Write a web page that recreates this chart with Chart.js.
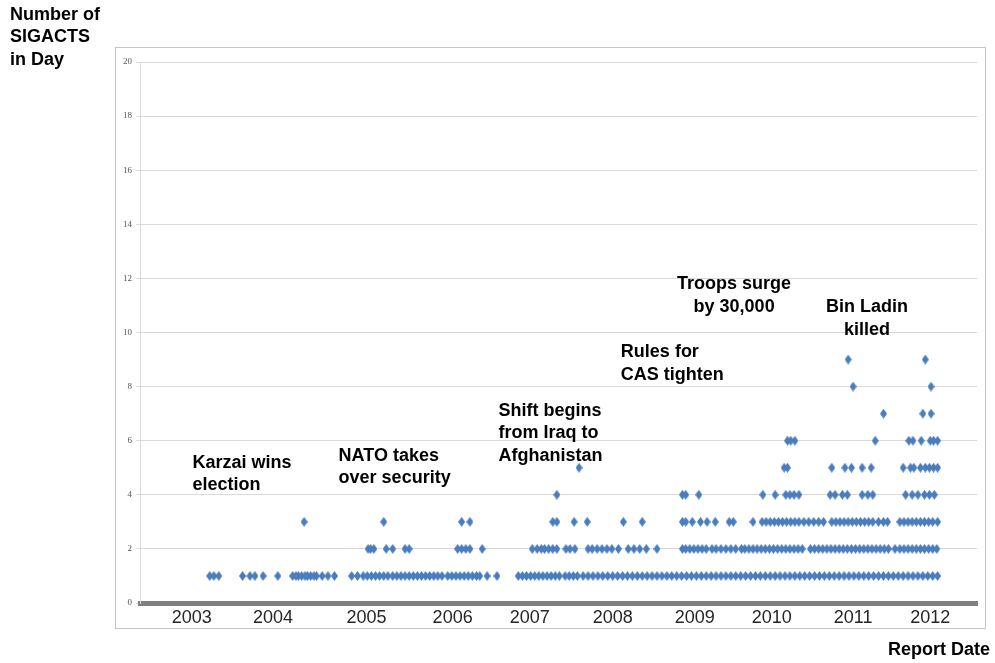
<!DOCTYPE html>
<html>
<head>
<meta charset="utf-8">
<script src="https://cdn.jsdelivr.net/npm/chart.js@4"></script>
<style>
  body { margin: 0; background: #fff; }
  #wrap { position: relative; width: 995px; height: 663px; }
</style>
</head>
<body>
<div id="wrap"><canvas id="sigactsChart"></canvas></div>
<script>
  // Report dates (decimal years) of days with N SIGACTS
  const daysWith1 = [
    2003.22, 2003.27, 2003.33, 2003.62, 2003.71, 2003.77, 2003.87, 2004.05,
    2004.23, 2004.27, 2004.30, 2004.34, 2004.38, 2004.41, 2004.45, 2004.49, 2004.52,
    2004.59, 2004.66, 2004.74, 2004.95, 2005.02,
    2005.09, 2005.14, 2005.19, 2005.24, 2005.29, 2005.34, 2005.39, 2005.45, 2005.50,
    2005.55, 2005.60, 2005.65, 2005.70, 2005.75, 2005.80, 2005.85, 2005.90, 2005.95,
    2006.00, 2006.05, 2006.12, 2006.17, 2006.22, 2006.27, 2006.32, 2006.37, 2006.42,
    2006.47, 2006.51, 2006.60, 2006.72,
    2006.98, 2007.03, 2007.08, 2007.13, 2007.18, 2007.23, 2007.28, 2007.33, 2007.38,
    2007.43, 2007.48, 2007.55, 2007.60, 2007.65, 2007.70,
    2007.77, 2007.83, 2007.89, 2007.95, 2008.01, 2008.07, 2008.13, 2008.19, 2008.25,
    2008.31, 2008.37, 2008.43, 2008.49, 2008.55, 2008.61, 2008.67, 2008.73, 2008.79,
    2008.85, 2008.91, 2008.97, 2009.03, 2009.09, 2009.15, 2009.21, 2009.27, 2009.33,
    2009.39, 2009.45, 2009.51, 2009.57, 2009.63, 2009.69, 2009.75, 2009.81, 2009.87,
    2009.93, 2009.99, 2010.05, 2010.11, 2010.17, 2010.23, 2010.29, 2010.35, 2010.41,
    2010.47, 2010.53, 2010.59, 2010.65, 2010.71, 2010.77, 2010.83, 2010.89, 2010.95,
    2011.01, 2011.07, 2011.13, 2011.19, 2011.25, 2011.31, 2011.37, 2011.43, 2011.49,
    2011.55, 2011.61, 2011.67, 2011.73, 2011.79, 2011.85, 2011.91, 2011.97, 2012.03, 2012.09
  ];
  const daysWith2 = [
    2005.15, 2005.18, 2005.22, 2005.37, 2005.45, 2005.60, 2005.65,
    2006.24, 2006.29, 2006.34, 2006.39, 2006.54,
    2007.15, 2007.21, 2007.26, 2007.30, 2007.35, 2007.40, 2007.45, 2007.56, 2007.61, 2007.67,
    2007.83, 2007.88, 2007.94, 2008.00, 2008.06, 2008.12, 2008.20, 2008.32, 2008.39,
    2008.46, 2008.54, 2008.67,
    2008.98, 2009.02, 2009.07, 2009.12, 2009.17, 2009.22, 2009.27, 2009.34, 2009.39,
    2009.45, 2009.51, 2009.57, 2009.63, 2009.70, 2009.74, 2009.79, 2009.84, 2009.89,
    2009.94, 2009.99, 2010.04, 2010.09, 2010.14, 2010.19, 2010.24, 2010.29, 2010.34,
    2010.39, 2010.44,
    2010.54, 2010.59, 2010.64, 2010.69, 2010.74, 2010.79, 2010.84, 2010.89, 2010.94,
    2010.99, 2011.04, 2011.09, 2011.14, 2011.19, 2011.24, 2011.29, 2011.34, 2011.39,
    2011.44, 2011.49, 2011.57,
    2011.63, 2011.68, 2011.73, 2011.78, 2011.83, 2011.88, 2011.93, 2011.98, 2012.03, 2012.08
  ];
  const daysWith3 = [
    2004.37, 2005.34, 2006.29, 2006.39, 2007.40, 2007.45, 2007.66, 2007.82, 2008.26, 2008.49,
    2008.98, 2009.02, 2009.10, 2009.20, 2009.28, 2009.38, 2009.55, 2009.60, 2009.84,
    2009.95, 2010.00, 2010.05, 2010.10, 2010.15, 2010.20, 2010.25, 2010.30, 2010.35,
    2010.40, 2010.46, 2010.52, 2010.58, 2010.64, 2010.70,
    2010.80, 2010.85, 2010.90, 2010.95, 2011.00, 2011.05, 2011.10, 2011.15, 2011.20,
    2011.25, 2011.30, 2011.37, 2011.43, 2011.48,
    2011.63, 2011.68, 2011.73, 2011.78, 2011.83, 2011.88, 2011.93, 2011.98, 2012.03, 2012.09
  ];
  const daysWith4 = [
    2007.45, 2008.98, 2009.02, 2009.18, 2009.96, 2010.11, 2010.24, 2010.29, 2010.34, 2010.40,
    2010.78, 2010.84, 2010.93, 2010.99, 2011.17, 2011.24, 2011.30,
    2011.70, 2011.78, 2011.85, 2011.93, 2011.99, 2012.05
  ];
  const daysWith5 = [
    2007.72, 2010.22, 2010.26, 2010.80, 2010.96, 2011.04, 2011.17, 2011.28,
    2011.67, 2011.76, 2011.80, 2011.88, 2011.94, 2011.99, 2012.04, 2012.09
  ];
  const daysWith6 = [2010.26, 2010.30, 2010.35, 2011.33, 2011.74, 2011.79, 2011.89, 2012.00, 2012.04, 2012.09];
  const daysWith7 = [2011.43, 2011.91, 2012.01];
  const daysWith8 = [2011.06, 2012.01];
  const daysWith9 = [2011.00, 2011.94];

  // x axis year labels and where they sit on the date axis
  const yearLabels = ['2003', '2004', '2005', '2006', '2007', '2008', '2009', '2010', '2011', '2012'];
  const yearLabelPos = [2003.00, 2003.99, 2005.13, 2006.18, 2007.12, 2008.13, 2009.13, 2010.07, 2011.06, 2012.00];

  // event notes
  const noteText = [
    ['Karzai wins', 'election'],
    ['NATO takes', 'over security'],
    ['Shift begins', 'from Iraq to', 'Afghanistan'],
    ['Rules for', 'CAS tighten'],
    ['Troops surge', 'by 30,000'],
    ['Bin Ladin', 'killed']
  ];
  const noteX = [2003.01, 2004.79, 2006.74, 2008.23, 2009.61, 2011.23];
  const noteY = [5.19, 5.44, 7.11, 9.26, 11.78, 10.93];
  const noteAlign = ['left', 'left', 'left', 'left', 'center', 'center'];

  const byCount = [daysWith1, daysWith2, daysWith3, daysWith4, daysWith5, daysWith6, daysWith7, daysWith8, daysWith9];
  const points = [];
  byCount.forEach((dates, i) => dates.forEach(d => points.push({ x: d, y: i + 1 })));

  // tall diamond marker like the original spreadsheet
  function diamond(w, h, color) {
    const c = document.createElement('canvas');
    c.width = w; c.height = h;
    const g = c.getContext('2d');
    g.fillStyle = color;
    g.beginPath();
    g.moveTo(w / 2, 0);
    g.lineTo(w, h / 2);
    g.lineTo(w / 2, h);
    g.lineTo(0, h / 2);
    g.closePath();
    g.fill();
    return c;
  }

  const FONT = '"Liberation Sans", Arial, sans-serif';

  const decorations = {
    id: 'decorations',
    beforeDraw(chart) {
      const { ctx, chartArea } = chart;
      ctx.save();
      ctx.strokeStyle = '#c4c4c4';
      ctx.lineWidth = 1;
      ctx.strokeRect(chartArea.left - 24.5, chartArea.top - 14.5, chartArea.width + 33, chartArea.height + 40);
      ctx.restore();
    },
    afterDraw(chart) {
      const { ctx, chartArea, scales } = chart;
      ctx.save();
      ctx.fillStyle = '#000';
      ctx.textBaseline = 'middle';
      ctx.font = 'bold 18px ' + FONT;
      // axis titles
      ctx.textAlign = 'left';
      ['Number of', 'SIGACTS', 'in Day'].forEach((t, i) => ctx.fillText(t, 10, 15 + i * 22.5));
      ctx.fillText('Report Date', chartArea.right - 89, chartArea.bottom + 47);
      // notes
      noteText.forEach((lines, k) => {
        const px = scales.x.getPixelForValue(noteX[k]);
        const py = scales.y.getPixelForValue(noteY[k]);
        ctx.textAlign = noteAlign[k];
        lines.forEach((t, i) => ctx.fillText(t, px, py + i * 22.5));
      });
      ctx.restore();
    }
  };

  new Chart(document.getElementById('sigactsChart'), {
    type: 'scatter',
    data: {
      datasets: [{
        label: 'SIGACTS',
        data: points,
        pointStyle: diamond(7, 10, '#4a7dbd'),
        pointRadius: 4,
        backgroundColor: '#4a7dbd'
      }]
    },
    options: {
      responsive: true,
      maintainAspectRatio: false,
      animation: false,
      layout: { padding: { top: 62, right: 18, bottom: 0, left: 0 } },
      plugins: { legend: { display: false }, tooltip: { enabled: false } },
      scales: {
        x: {
          type: 'linear',
          min: 2002.37,
          max: 2012.57,
          afterFit(s) { s.height = 60; },
          afterBuildTicks(s) { s.ticks = yearLabelPos.map(v => ({ value: v })); },
          grid: { display: false, drawTicks: false },
          border: { display: true, color: '#808080', width: 5 },
          ticks: {
            padding: 4,
            color: '#262626',
            font: { family: FONT, size: 18 },
            callback: (v, i) => yearLabels[i]
          }
        },
        y: {
          min: 0,
          max: 20,
          afterFit(s) { s.width = 140; },
          grid: { color: '#d9d9d9', tickLength: 4 },
          border: { color: '#d9d9d9' },
          ticks: {
            stepSize: 2,
            padding: 4,
            color: '#555',
            font: { family: '"Liberation Serif", serif', size: 9 }
          }
        }
      }
    },
    plugins: [decorations]
  });
</script>
</body>
</html>
